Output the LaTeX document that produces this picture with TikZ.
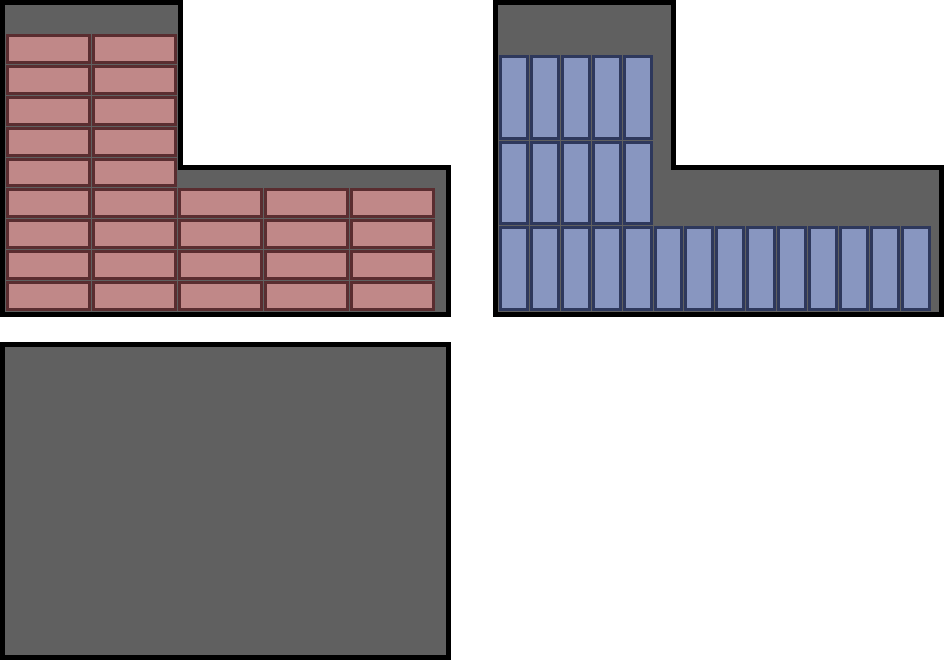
\documentclass[tikz,border=0pt]{standalone}
\definecolor{wallgray}{RGB}{96,96,96}
\definecolor{pinkfill}{RGB}{192,136,136}
\definecolor{reddark}{RGB}{90,45,48}
\definecolor{bluefill}{RGB}{136,150,192}
\definecolor{bluedark}{RGB}{46,56,92}
\begin{document}
\begin{tikzpicture}[x=1pt,y=-1pt,
  wall/.style={fill=wallgray, draw=black, line width=5pt, line join=miter},
  redbrick/.style={fill=pinkfill, draw=reddark, line width=3pt},
  bluebrick/.style={fill=bluefill, draw=bluedark, line width=3pt}]
\useasboundingbox (0,0) rectangle (944,666);
% walls
\path[wall] (2.5,2.5) -- (180.5,2.5) -- (180.5,167.5) -- (448,167.5) -- (448,314.5) -- (2.5,314.5) -- cycle;
\path[wall] (495.5,2.5) -- (673,2.5) -- (673,167.5) -- (941.5,167.5) -- (941.5,314.5) -- (495.5,314.5) -- cycle;
\path[wall] (2.5,344.5) rectangle (448,657);
% red bricks
\foreach \j in {0,...,4} \foreach \i in {0,1} {
  \path[redbrick] ({5.5+86*\i+2},{33.5+30.89*\j+2}) rectangle ({5.5+86*\i+84},{33.5+30.89*\j+28.89});
}
\foreach \j in {5,...,8} \foreach \i in {0,...,4} {
  \path[redbrick] ({5.5+86*\i+2},{33.5+30.89*\j+2}) rectangle ({5.5+86*\i+84},{33.5+30.89*\j+28.89});
}
% blue bricks
\foreach \j in {0,1} \foreach \i in {0,...,4} {
  \path[bluebrick] ({498.5+30.9*\i+2},{54.5+85.67*\j+2}) rectangle ({498.5+30.9*\i+28.9},{54.5+85.67*\j+83.67});
}
\foreach \i in {0,...,13} {
  \path[bluebrick] ({498.5+30.9*\i+2},{54.5+85.67*2+2}) rectangle ({498.5+30.9*\i+28.9},{54.5+85.67*2+83.67});
}
\end{tikzpicture}
\end{document}
